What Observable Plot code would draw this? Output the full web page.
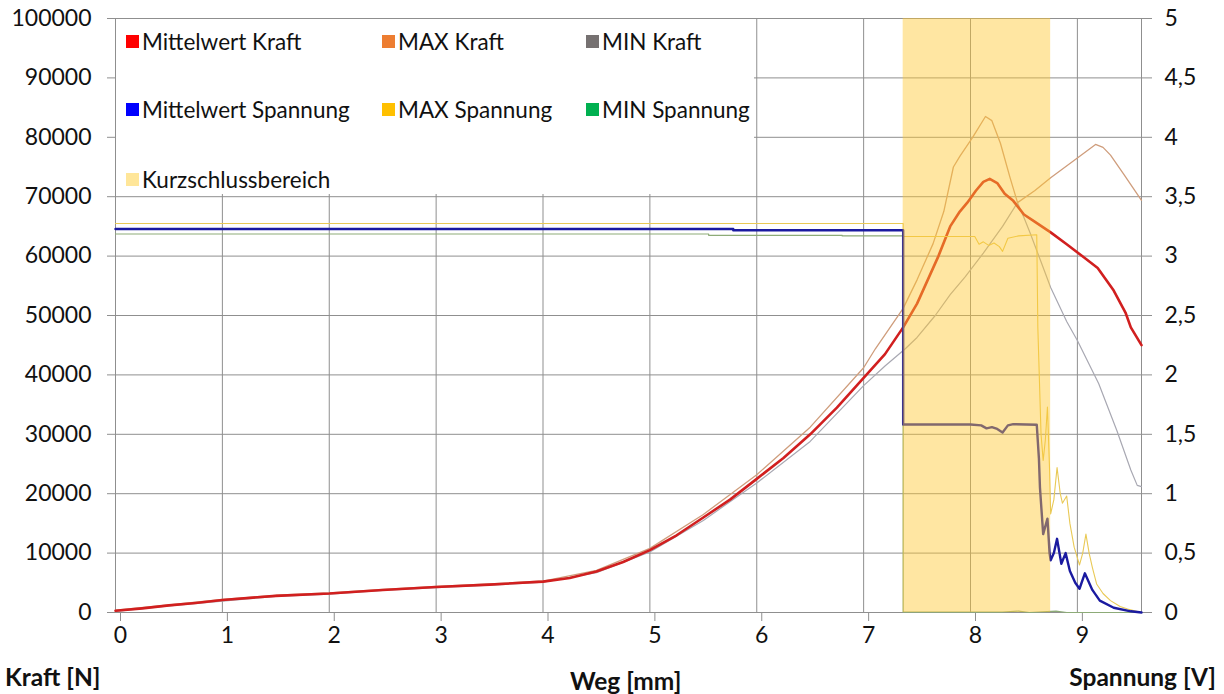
<!DOCTYPE html>
<html>
<head>
<meta charset="utf-8">
<script src="https://cdn.jsdelivr.net/npm/d3@7"></script>
<script src="https://cdn.jsdelivr.net/npm/@observablehq/plot@0.6"></script>
<style>
  body { margin: 0; background: #fff; }
  #wrap { position: relative; width: 1224px; height: 694px; font-family: Lato, "Open Sans", sans-serif; color: #111; }
  #legend { position: absolute; left: 116px; top: 19px; width: 638px; height: 175px; background: #fff; font-size: 22.5px; }
  .item { position: absolute; display: flex; align-items: center; white-space: nowrap; }
  .sw { width: 13px; height: 13px; margin-right: 3px; }
  .title { position: absolute; font-weight: bold; font-size: 24.5px; white-space: nowrap; }
</style>
</head>
<body>
<div id="wrap"></div>
<script>
// Weg [mm] and Kraft [N] for the averaged force curve
const wegKraftMittel = [0, 0.25, 0.5, 0.75, 1, 1.5, 2, 2.5, 3, 3.5, 4, 4.25, 4.5, 4.75, 5, 5.25, 5.5, 5.75, 6, 6.25, 6.5, 6.75, 7, 7.2, 7.37, 7.5, 7.6, 7.7, 7.81, 7.9, 7.97, 8.05, 8.12, 8.18, 8.25, 8.32, 8.4, 8.5, 8.6, 8.75, 8.9, 9.06, 9.19, 9.34, 9.45, 9.5, 9.6];
const kraftMittel = [300, 700, 1200, 1600, 2100, 2800, 3200, 3800, 4300, 4700, 5200, 5800, 6900, 8500, 10500, 13000, 16000, 19000, 22500, 26000, 30000, 34500, 39500, 43500, 48000, 52000, 56000, 60000, 65000, 67500, 69000, 71000, 72500, 73000, 72300, 70500, 69300, 67000, 65800, 64000, 62000, 59800, 58000, 54200, 50500, 48000, 45000];

// Upper envelope of the force curves
const wegKraftMax = [0, 0.5, 1, 1.5, 2, 2.5, 3, 3.5, 4, 4.5, 5, 5.5, 6, 6.5, 7, 7.11, 7.37, 7.5, 7.65, 7.75, 7.84, 7.9, 8.02, 8.14, 8.2, 8.28, 8.37, 8.44, 8.6, 8.75, 9.0, 9.17, 9.24, 9.31, 9.43, 9.6];
const kraftMax = [400, 1300, 2200, 2900, 3300, 3900, 4400, 4800, 5300, 7100, 10800, 16500, 23200, 31200, 41200, 44400, 51200, 56000, 62100, 67500, 75000, 76800, 80000, 83500, 82800, 79000, 73200, 69000, 71000, 73200, 76500, 78800, 78300, 77000, 73900, 69400];

// Lower envelope of the force curves
const wegKraftMin = [0, 0.5, 1, 1.5, 2, 2.5, 3, 3.5, 4, 4.5, 5, 5.5, 6, 6.5, 7, 7.2, 7.39, 7.5, 7.67, 7.81, 7.95, 8.12, 8.3, 8.44, 8.5, 8.56, 8.65, 8.75, 8.9, 9.0, 9.2, 9.37, 9.5, 9.56, 9.6];
const kraftMin = [200, 1100, 1900, 2700, 3100, 3700, 4200, 4600, 5100, 6700, 10200, 15500, 21800, 28800, 38200, 41500, 44400, 46300, 50000, 53500, 56500, 60500, 65000, 69000, 66500, 63800, 59500, 54700, 49000, 45800, 38500, 30600, 24000, 21400, 21200];

// Spannung [V]: mean, maximum and minimum
const wegSpMittel = [0, 5.78, 5.78, 7.37, 7.37, 8.0, 8.1, 8.15, 8.2, 8.25, 8.3, 8.35, 8.4, 8.62, 8.64, 8.65, 8.68, 8.72, 8.74, 8.75, 8.78, 8.81, 8.85, 8.89, 8.93, 8.98, 9.02, 9.07, 9.14, 9.21, 9.34, 9.5, 9.6];
const spMittel = [3.228, 3.228, 3.218, 3.218, 1.582, 1.582, 1.575, 1.55, 1.56, 1.545, 1.515, 1.575, 1.585, 1.58, 1.3, 1.05, 0.66, 0.79, 0.5, 0.44, 0.5, 0.62, 0.41, 0.5, 0.35, 0.25, 0.2, 0.33, 0.19, 0.1, 0.04, 0.01, 0];

const wegSpMax = [0, 7.37, 7.37, 8.04, 8.08, 8.12, 8.17, 8.22, 8.27, 8.3, 8.35, 8.45, 8.62, 8.63, 8.66, 8.68, 8.7, 8.72, 8.74, 8.75, 8.78, 8.81, 8.84, 8.86, 8.9, 8.93, 8.97, 9.0, 9.02, 9.05, 9.08, 9.11, 9.14, 9.18, 9.24, 9.31, 9.4, 9.47, 9.6];
const spMax = [3.274, 3.274, 3.165, 3.165, 3.1, 3.12, 3.09, 3.11, 3.08, 3.04, 3.15, 3.17, 3.18, 2.4, 1.5, 1.28, 1.45, 1.73, 1.2, 0.83, 0.95, 1.22, 1.0, 0.92, 0.98, 0.75, 0.55, 0.46, 0.4, 0.5, 0.66, 0.5, 0.38, 0.24, 0.16, 0.1, 0.05, 0.03, 0];

const wegSpMin = [0, 5.55, 5.55, 6.8, 6.8, 7.37, 7.37, 8.3, 8.45, 8.55, 8.8, 8.9, 9.6];
const spMin = [3.186, 3.186, 3.175, 3.175, 3.17, 3.17, 0.004, 0.004, 0.012, 0, 0.012, 0, 0];

// Short-circuit range along the travel axis [mm]
const kurzschlussBereich = [7.37, 8.75];

// Axis ticks
const wegTicks = [0, 1, 2, 3, 4, 5, 6, 7, 8, 9];
const kraftTicks = [0, 10000, 20000, 30000, 40000, 50000, 60000, 70000, 80000, 90000, 100000];
const wegMax = 9.6;
const kraftMaxAxis = 100000;
const spannungMaxAxis = 5;

// Secondary axis: volts are mapped onto the force scale
const vScale = kraftMaxAxis / spannungMaxAxis;

const rows = (xs, ys) => xs.map((x, i) => ({x, y: ys[i]}));

const series = [
  {name: "Mittelwert Kraft", swatch: "#ff0000"},
  {name: "MAX Kraft", swatch: "#ed7d31"},
  {name: "MIN Kraft", swatch: "#767171"},
  {name: "Mittelwert Spannung", swatch: "#0000ff"},
  {name: "MAX Spannung", swatch: "#ffc000"},
  {name: "MIN Spannung", swatch: "#00b050"},
  {name: "Kurzschlussbereich", swatch: "#ffe699"}
];

const grid = "#8f8f8f";
const tickFont = 23;

const chart = Plot.plot({
  width: 1224,
  height: 694,
  marginLeft: 115,
  marginRight: 83,
  marginTop: 18,
  marginBottom: 82,
  style: {fontFamily: "Lato, 'Open Sans', sans-serif", fontSize: "23px", color: "#111", background: "#fff", overflow: "visible"},
  x: {domain: [0, wegMax], label: null},
  y: {domain: [0, kraftMaxAxis], label: null},
  marks: [
    Plot.gridY(kraftTicks, {stroke: grid, strokeOpacity: 1}),
    Plot.gridX(wegTicks, {stroke: grid, strokeOpacity: 1}),
    Plot.frame({stroke: grid}),
    Plot.axisY(kraftTicks, {anchor: "left", label: null, tickSize: 8, tickPadding: 16, stroke: grid, tickFormat: d => String(d), fontSize: tickFont}),
    Plot.axisY(kraftTicks, {anchor: "right", label: null, tickSize: 10, tickPadding: 13, stroke: grid, tickFormat: d => String(d / vScale).replace(".", ","), fontSize: tickFont}),
    Plot.axisX(wegTicks, {anchor: "bottom", label: null, tickSize: 9, tickPadding: 5, stroke: grid, dx: 5, fontSize: tickFont, tickFormat: d => String(d)}),
    Plot.line(rows(wegKraftMin, kraftMin), {x: "x", y: "y", stroke: "#a8a8b2", strokeWidth: 1.2}),
    Plot.line(rows(wegKraftMax, kraftMax), {x: "x", y: "y", stroke: "#cf9d7c", strokeWidth: 1.3}),
    Plot.line(rows(wegKraftMittel, kraftMittel), {x: "x", y: "y", stroke: "#d11f1f", strokeWidth: 2.6}),
    Plot.line(rows(wegSpMin, spMin), {x: "x", y: d => d.y * vScale, stroke: "#8dab78", strokeWidth: 1.2}),
    Plot.line(rows(wegSpMax, spMax), {x: "x", y: d => d.y * vScale, stroke: "#e9c955", strokeWidth: 1.1}),
    Plot.line(rows(wegSpMittel, spMittel), {x: "x", y: d => d.y * vScale, stroke: "#1a1aa0", strokeWidth: 2.4}),
    Plot.rect([kurzschlussBereich], {x1: d => d[0], x2: d => d[1], y1: 0, y2: kraftMaxAxis, fill: "#ffc830", fillOpacity: 0.45})
  ]
});

const wrap = document.getElementById("wrap");
wrap.appendChild(chart);

// Legend in three columns, drawn over the upper-left of the plot
const legend = document.createElement("div");
legend.id = "legend";
const colX = [10, 266, 470];
const rowY = [9, 77, 147];
series.forEach((s, i) => {
  const el = document.createElement("div");
  el.className = "item";
  el.style.left = colX[i % 3] + "px";
  el.style.top = rowY[Math.floor(i / 3)] + "px";
  el.innerHTML = `<span class="sw" style="background:${s.swatch}"></span><span>${s.name}</span>`;
  legend.appendChild(el);
});
wrap.appendChild(legend);

// Axis titles
const titles = [
  {text: "Kraft [N]", style: "left:5px; top:662px;"},
  {text: "Weg [mm]", style: "left:570px; top:666px;"},
  {text: "Spannung [V]", style: "right:8px; top:662px;"}
];
titles.forEach(t => {
  const el = document.createElement("div");
  el.className = "title";
  el.setAttribute("style", t.style);
  el.textContent = t.text;
  wrap.appendChild(el);
});
</script>
</body>
</html>
